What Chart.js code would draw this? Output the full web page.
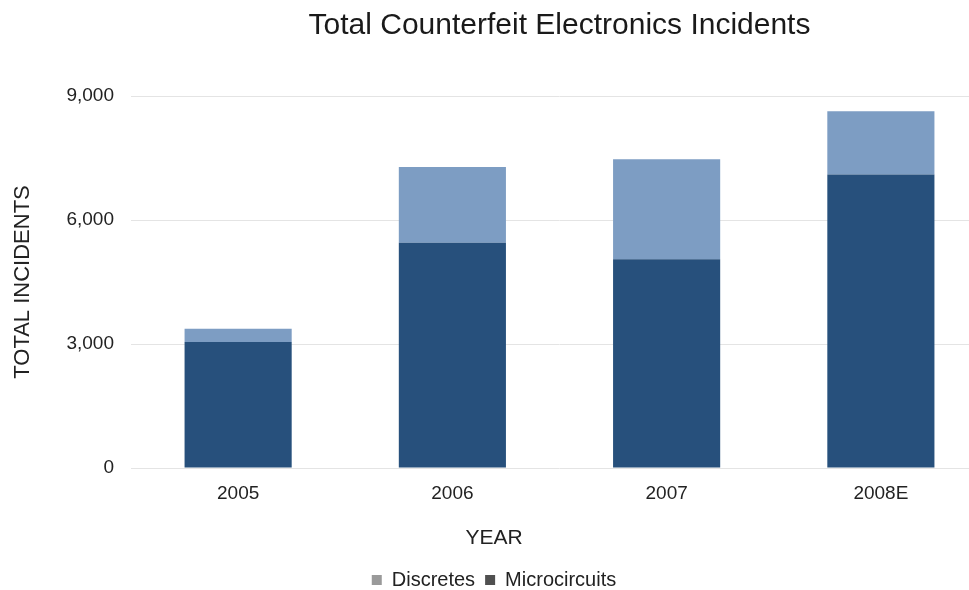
<!DOCTYPE html>
<html>
<head>
<meta charset="utf-8">
<script src="https://cdn.jsdelivr.net/npm/chart.js@4/dist/chart.umd.min.js"></script>
<style>
  body { margin: 0; background: #fff; }
  #wrap { width: 969px; height: 590px; overflow: hidden; position: relative; }
</style>
</head>
<body>
<div id="wrap">
  <canvas id="barChart" width="990" height="600"></canvas>
</div>
<script>
let years = ["2005", "2006", "2007", "2008E"];
let microcircuits = [3050, 5450, 5050, 7100];
let discretes = [320, 1830, 2420, 1530];
let yTicks = [0, 3000, 6000, 9000];

let font = "'Liberation Sans', Arial, sans-serif";

let ctx = document.getElementById("barChart").getContext("2d");

let incidents = new Chart(ctx, {
  type: "bar",
  data: {
    labels: years,
    datasets: [
      {
        label: "Microcircuits",
        data: microcircuits,
        backgroundColor: "#27507c",
        legendColor: "#505050",
        barPercentage: 0.5,
        categoryPercentage: 1,
      },
      {
        label: "Discretes",
        data: discretes,
        backgroundColor: "#7d9dc3",
        legendColor: "#9a9a9a",
        barPercentage: 0.5,
        categoryPercentage: 1,
      },
    ],
  },
  options: {
    responsive: false,
    animation: false,
    layout: {
      padding: { left: 0, right: 2, top: 0, bottom: 0 },
    },
    scales: {
      x: {
        stacked: true,
        grid: { display: false, drawTicks: false },
        border: { display: false },
        ticks: {
          padding: 14,
          color: "#222",
          font: { family: font, size: 19 },
        },
      },
      y: {
        stacked: true,
        min: 0,
        max: 9000,
        afterBuildTicks: (scale) => {
          scale.ticks = yTicks.map((v) => ({ value: v }));
        },
        afterFit: (scale) => {
          scale.width = 131;
        },
        grid: { color: "#e4e4e4", drawTicks: false },
        border: { display: false },
        ticks: {
          padding: 17,
          color: "#222",
          font: { family: font, size: 19 },
          callback: (v) => v.toLocaleString("en-US"),
        },
        title: {
          display: true,
          text: "TOTAL INCIDENTS",
          color: "#222",
          font: { family: font, size: 22 },
          padding: { top: 10, bottom: 0 },
        },
      },
    },
    plugins: {
      title: {
        display: true,
        text: "Total Counterfeit Electronics Incidents",
        fullSize: false,
        color: "#1a1a1a",
        font: { family: font, size: 30, weight: "normal" },
        padding: { top: 8, bottom: 52 },
      },
      legend: {
        position: "bottom",
        title: {
          display: true,
          text: "YEAR",
          color: "#222",
          font: { family: font, size: 21 },
          padding: { top: 9, bottom: 7 },
        },
        labels: {
          boxWidth: 10,
          boxHeight: 10,
          padding: 10,
          color: "#222",
          font: { family: font, size: 20 },
          generateLabels: (chart) => {
            let items = Chart.defaults.plugins.legend.labels.generateLabels(chart);
            items.forEach((item) => {
              let c = chart.data.datasets[item.datasetIndex].legendColor;
              item.fillStyle = c;
              item.strokeStyle = c;
              item.lineWidth = 0;
            });
            return items.reverse();
          },
        },
      },
      tooltip: { enabled: false },
    },
  },
});
</script>
</body>
</html>
